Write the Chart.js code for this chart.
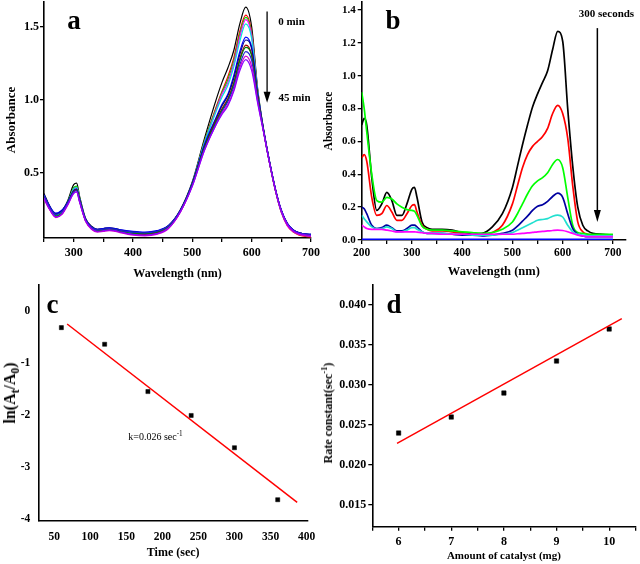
<!DOCTYPE html>
<html><head><meta charset="utf-8">
<script src="https://cdn.jsdelivr.net/npm/chart.js@4.4.0/dist/chart.umd.min.js"></script>
<style>
html,body{margin:0;padding:0;background:#fff;}
#wrap{position:relative;width:640px;height:564px;overflow:hidden;background:#fff;}
canvas{position:absolute;left:0;top:0;}
.t{position:absolute;font-family:'Liberation Serif','Times New Roman',serif;font-weight:bold;color:#000;white-space:nowrap;line-height:1;}
.t sub,.t sup{font-size:0.72em;line-height:0;}
</style></head>
<body><div id="wrap">
<canvas id="ca" width="640" height="564"></canvas>
<canvas id="cb" width="640" height="564"></canvas>
<canvas id="cc" width="640" height="564"></canvas>
<canvas id="cd" width="640" height="564"></canvas>
<div class="t" style="left:74px;top:7.4px;font-size:27px;transform:translateX(-50%)">a</div>
<div class="t" style="left:393px;top:7.4px;font-size:27px;transform:translateX(-50%)">b</div>
<div class="t" style="left:52.5px;top:290.7px;font-size:27px;transform:translateX(-50%)">c</div>
<div class="t" style="left:394px;top:290.7px;font-size:27px;transform:translateX(-50%)">d</div>
<div class="t" style="left:291.5px;top:21px;font-size:11px;transform:translate(-50%,-50%)">0 min</div>
<div class="t" style="left:294.5px;top:97px;font-size:11px;transform:translate(-50%,-50%)">45 min</div>
<div class="t" style="left:606.5px;top:12.7px;font-size:11px;transform:translate(-50%,-50%)">300 seconds</div>
<div class="t" style="left:128.3px;top:436.7px;font-size:10px;font-weight:normal;transform:translateY(-50%)">k=0.026 sec<sup>-1</sup></div>
<div class="t" style="left:10px;top:393px;font-size:16px;transform:translate(-50%,-50%) rotate(-90deg)">ln(A<sub>t</sub>/A<sub>0</sub>)</div>
<div class="t" style="left:328px;top:413px;font-size:12px;transform:translate(-50%,-50%) rotate(-90deg)">Rate constant(sec<sup>-1</sup>)</div>
</div>
<script>
const FONT = "'Liberation Serif','Times New Roman',serif";

// ---------- Panel a: spectra 0 - 45 min ----------
const wlA = [250,260,270,280,290,300,305,310,320,330,340,350,360,370,380,400,420,440,460,480,500,520,540,550,560,570,580,590,600,610,620,630,640,650,660,670,680,700];
const specA1  = [0.36,0.27,0.215,0.24,0.31,0.42,0.43,0.34,0.19,0.135,0.115,0.12,0.125,0.12,0.11,0.095,0.09,0.10,0.14,0.25,0.44,0.73,1.00,1.12,1.22,1.34,1.52,1.635,1.50,1.08,0.80,0.58,0.39,0.24,0.15,0.11,0.09,0.075];
const specA2  = [0.33,0.25,0.20,0.225,0.29,0.395,0.405,0.32,0.175,0.12,0.10,0.105,0.11,0.105,0.095,0.08,0.075,0.085,0.125,0.235,0.425,0.71,0.95,1.06,1.16,1.29,1.47,1.58,1.46,1.06,0.79,0.57,0.38,0.23,0.14,0.095,0.075,0.06];
const specA3  = [0.34,0.26,0.21,0.23,0.30,0.40,0.41,0.33,0.18,0.125,0.105,0.11,0.115,0.11,0.10,0.085,0.08,0.09,0.13,0.24,0.43,0.71,0.94,1.05,1.14,1.27,1.45,1.565,1.45,1.07,0.79,0.57,0.38,0.235,0.145,0.10,0.08,0.065];
const specA4  = [0.33,0.25,0.20,0.22,0.29,0.39,0.40,0.32,0.175,0.12,0.10,0.105,0.11,0.105,0.095,0.08,0.075,0.085,0.125,0.235,0.425,0.70,0.93,1.04,1.12,1.25,1.43,1.55,1.44,1.06,0.79,0.57,0.38,0.23,0.14,0.10,0.08,0.065];
const specA5  = [0.34,0.26,0.215,0.235,0.30,0.39,0.40,0.32,0.18,0.125,0.11,0.115,0.12,0.115,0.105,0.09,0.085,0.095,0.135,0.24,0.43,0.70,0.92,1.02,1.10,1.23,1.40,1.52,1.42,1.06,0.79,0.575,0.385,0.235,0.15,0.105,0.085,0.07];
const specA6  = [0.35,0.27,0.225,0.245,0.30,0.38,0.39,0.32,0.185,0.13,0.115,0.12,0.125,0.12,0.11,0.10,0.095,0.105,0.14,0.245,0.43,0.69,0.88,0.97,1.04,1.17,1.33,1.43,1.36,1.05,0.80,0.58,0.39,0.245,0.155,0.11,0.09,0.08];
const specA7  = [0.35,0.265,0.22,0.24,0.30,0.38,0.39,0.32,0.18,0.13,0.11,0.115,0.12,0.115,0.105,0.095,0.09,0.10,0.14,0.245,0.43,0.68,0.87,0.96,1.03,1.15,1.31,1.41,1.35,1.04,0.79,0.58,0.39,0.245,0.155,0.11,0.09,0.08];
const specA8  = [0.33,0.25,0.20,0.22,0.29,0.375,0.385,0.31,0.175,0.12,0.10,0.105,0.11,0.105,0.095,0.08,0.08,0.09,0.13,0.24,0.42,0.67,0.86,0.94,1.01,1.12,1.28,1.375,1.31,1.03,0.79,0.575,0.385,0.24,0.15,0.105,0.085,0.07];
const specA9  = [0.34,0.255,0.205,0.225,0.29,0.37,0.38,0.31,0.175,0.125,0.105,0.11,0.115,0.11,0.10,0.085,0.085,0.095,0.135,0.24,0.42,0.67,0.85,0.93,1.00,1.11,1.27,1.36,1.30,1.02,0.79,0.575,0.385,0.24,0.15,0.105,0.085,0.07];
const specA10 = [0.35,0.265,0.215,0.235,0.295,0.37,0.38,0.31,0.18,0.13,0.11,0.115,0.12,0.115,0.105,0.095,0.09,0.10,0.14,0.245,0.42,0.66,0.84,0.92,0.99,1.09,1.24,1.33,1.27,1.01,0.79,0.58,0.39,0.245,0.155,0.11,0.09,0.08];
const specA11 = [0.32,0.245,0.195,0.215,0.28,0.36,0.37,0.30,0.17,0.115,0.095,0.10,0.105,0.10,0.09,0.075,0.07,0.08,0.12,0.235,0.41,0.65,0.83,0.91,0.97,1.07,1.22,1.30,1.23,0.99,0.78,0.57,0.38,0.235,0.145,0.10,0.08,0.065];
const specA12 = [0.33,0.25,0.20,0.22,0.285,0.36,0.37,0.30,0.175,0.12,0.10,0.105,0.11,0.105,0.095,0.08,0.075,0.085,0.125,0.235,0.41,0.65,0.83,0.90,0.96,1.06,1.20,1.275,1.20,0.98,0.78,0.57,0.385,0.24,0.15,0.105,0.085,0.07];
const colorsA = ['#000000','#ff0000','#00e000','#ff00ff','#00e0e0','#0000ff','#000090','#a00000','#007a00','#2020d0','#d000d0','#8a00ff'];
const seriesA = [specA1,specA2,specA3,specA4,specA5,specA6,specA7,specA8,specA9,specA10,specA11,specA12];

// ---------- Panel b: spectra 0 - 300 s ----------
const wlB = [200,205,210,220,230,240,250,260,270,280,290,300,305,310,320,330,340,360,380,400,420,440,460,480,500,510,520,530,540,550,560,570,580,590,600,610,620,630,640,650,660,680,700];
const specBblack   = [0.70,0.74,0.70,0.38,0.18,0.22,0.29,0.24,0.15,0.15,0.22,0.31,0.32,0.26, 0.11,0.075,0.065,0.065,0.06,0.045,0.035,0.04,0.08,0.16, 0.32,0.45,0.58,0.70,0.81,0.89,0.96,1.03,1.16,1.27, 1.21,0.80,0.45,0.20,0.09,0.055,0.04,0.035,0.03];
const specBred     = [0.50,0.52,0.48,0.26,0.15,0.16,0.21,0.17,0.12,0.12,0.16,0.21,0.215,0.17, 0.09,0.065,0.055,0.055,0.05,0.04,0.03,0.03,0.045,0.09, 0.22,0.33,0.44,0.52,0.57,0.60,0.63,0.68,0.77,0.82, 0.77,0.62,0.33,0.11,0.05,0.035,0.03,0.025,0.025];
const specBgreen   = [0.90,0.80,0.66,0.40,0.24,0.23,0.26,0.25,0.22,0.20,0.185,0.18,0.175,0.15, 0.085,0.065,0.06,0.06,0.055,0.05,0.045,0.04,0.045,0.065, 0.11,0.16,0.22,0.28,0.33,0.36,0.38,0.41,0.46,0.49, 0.44,0.26,0.09,0.045,0.04,0.035,0.035,0.035,0.035];
const specBnavy    = [0.20,0.19,0.16,0.09,0.07,0.075,0.09,0.075,0.055,0.055,0.07,0.09,0.09,0.08, 0.05,0.04,0.04,0.04,0.035,0.03,0.03,0.025,0.03,0.04, 0.06,0.085,0.115,0.145,0.18,0.205,0.215,0.235,0.265,0.285, 0.26,0.16,0.07,0.035,0.025,0.02,0.02,0.02,0.02];
const specBcyan    = [0.15,0.13,0.11,0.08,0.07,0.07,0.08,0.07,0.05,0.05,0.06,0.075,0.075,0.065, 0.05,0.04,0.04,0.04,0.035,0.035,0.03,0.03,0.03,0.035, 0.045,0.06,0.075,0.09,0.105,0.12,0.125,0.13,0.145,0.152, 0.14,0.09,0.05,0.035,0.03,0.025,0.025,0.025,0.025];
const specBmagenta = [0.09,0.08,0.07,0.065,0.065,0.065,0.06,0.055,0.05,0.05,0.05,0.05,0.05,0.048, 0.045,0.04,0.04,0.035,0.035,0.035,0.035,0.035,0.035,0.035, 0.035,0.038,0.04,0.043,0.046,0.05,0.052,0.055,0.058,0.06, 0.058,0.05,0.04,0.03,0.025,0.02,0.02,0.02,0.02];
const wlBblue   = [200,700];
const specBblue = [0.004,0.004];

// ---------- Panel c: kinetics ----------
const timeC = [60,120,180,240,300,360];
const lnC   = [-0.31,-0.63,-1.54,-2.0,-2.62,-3.62];
const fitXC = [68,387];
const fitYC = [-0.24,-3.67];

// ---------- Panel d: rate constant vs catalyst ----------
const massD = [6,7,8,9,10];
const rateD = [0.024,0.026,0.029,0.033,0.037];
const fitXD = [5.97,10.24];
const fitYD = [0.0227,0.0383];

function pts(xs, ys){ return xs.map((x,i)=>({x:x, y:ys[i]})); }
function fixScale(w,h){
  return function(s){
    if (w != null) s.width = w;
    if (h != null) s.height = h;
    s.paddingTop = 0; s.paddingBottom = 0; s.paddingLeft = 0; s.paddingRight = 0;
  };
}
function axis(o){
  return {
    type:'linear', min:o.min, max:o.max,
    afterFit: fixScale(o.w, o.h),
    border:{display:true, color:'#000', width:1.6},
    grid:{display:true, drawOnChartArea:false, drawTicks:o.tl>0, tickLength:o.tl||0, color:'#000', lineWidth:1.3},
    ticks:{stepSize:o.step, includeBounds:false, autoSkip:false, maxRotation:0, minRotation:0,
           padding:o.pad, color:'#000', font:{family:FONT, size:o.fs, weight:'bold'}, callback:o.cb},
    title: o.title ? {display:true, text:o.title, color:'#000',
                      font:{family:FONT, size:o.tfs, weight:'bold'},
                      padding:{top:o.tpad||0, bottom:o.tpad||0}} : {display:false}
  };
}
const arrowPlugin = {
  id:'arrow',
  afterDatasetsDraw(chart, args, a){
    if (!a || a.x == null) return;
    const xs = chart.scales.x, ys = chart.scales.y, ctx = chart.ctx;
    const px = xs.getPixelForValue(a.x), p1 = ys.getPixelForValue(a.y1), p2 = ys.getPixelForValue(a.y2);
    ctx.save();
    ctx.strokeStyle = '#000'; ctx.fillStyle = '#000'; ctx.lineWidth = a.lw;
    ctx.beginPath(); ctx.moveTo(px, p1); ctx.lineTo(px, p2 - a.hl + 1); ctx.stroke();
    ctx.beginPath(); ctx.moveTo(px - a.hw, p2 - a.hl); ctx.lineTo(px + a.hw, p2 - a.hl); ctx.lineTo(px, p2); ctx.closePath(); ctx.fill();
    ctx.restore();
  }
};
function baseOpts(pad, scales, arrow){
  return {
    responsive:false, animation:false, devicePixelRatio:1, events:[],
    layout:{padding:pad},
    plugins:{legend:{display:false}, tooltip:{enabled:false}, arrow: arrow || {}},
    scales: scales
  };
}
const lab100 = v => (Math.round(v) % 100 === 0 ? String(Math.round(v)) : '');

// Chart a
new Chart(document.getElementById('ca'), {
  type:'line',
  data:{datasets: seriesA.map((s,i)=>({data:pts(wlA,s), borderColor:colorsA[i], borderWidth:1.2,
        pointRadius:0, fill:false, cubicInterpolationMode:'monotone'})).reverse()},
  options: baseOpts({left:0, right:329, top:2, bottom:283}, {
    x: axis({min:250, max:700, h:43, tl:4, step:50, pad:4, fs:12, cb:lab100, title:'Wavelength (nm)', tfs:12}),
    y: axis({min:0.055, max:1.67, w:44, tl:4, step:0.5, pad:1, fs:12, cb:v=>v.toFixed(1), title:'Absorbance', tfs:13, tpad:4})
  }, {x:626, y1:1.605, y2:0.98, lw:1.3, hl:11, hw:3.5}),
  plugins:[arrowPlugin]
});

// Chart b
const seriesB = [
  {x:wlB, y:specBmagenta, c:'#ff00ff'},
  {x:wlB, y:specBcyan, c:'#22e0d0'},
  {x:wlB, y:specBnavy, c:'#0000a0'},
  {x:wlB, y:specBgreen, c:'#00ff00'},
  {x:wlB, y:specBred, c:'#ff0000'},
  {x:wlB, y:specBblack, c:'#000000'},
  {x:wlBblue, y:specBblue, c:'#0000ff'}
];
new Chart(document.getElementById('cb'), {
  type:'line',
  data:{datasets: seriesB.map(s=>({data:pts(s.x,s.y), borderColor:s.c, borderWidth:1.7,
        pointRadius:0, fill:false, cubicInterpolationMode:'monotone'}))},
  options: baseOpts({left:321.7, right:14, top:2, bottom:284.5}, {
    x: axis({min:200, max:726, h:39.5, tl:4, step:50, pad:2, fs:11.5, cb:lab100, title:'Wavelength (nm)', tfs:12.5}),
    y: axis({min:0, max:1.449, w:40, tl:4, step:0.2, pad:2, fs:11, cb:v=>v.toFixed(1), title:'Absorbance', tfs:11.5, tpad:0})
  }, {x:669, y1:1.29, y2:0.11, lw:1.5, hl:12, hw:3.5}),
  plugins:[arrowPlugin]
});

// Chart c
new Chart(document.getElementById('cc'), {
  type:'scatter',
  data:{datasets:[
    {data:pts(fitXC, fitYC), showLine:true, borderColor:'#ff0000', borderWidth:1.5, pointRadius:0},
    {data:pts(timeC, lnC), pointStyle:'rect', pointRadius:2.9, pointBorderWidth:0.5,
     backgroundColor:'#000', borderColor:'#000'}
  ]},
  options: baseOpts({left:0, right:332, top:285, bottom:3.9}, {
    x: axis({min:28, max:402, h:39.6, tl:0, step:50, pad:10, fs:11.5, cb:v=>String(Math.round(v)), title:'Time (sec)', tfs:12}),
    y: axis({min:-4.02, max:0.51, w:38.3, tl:0, step:1, pad:8, fs:11.5, cb:v=>String(Math.round(v))})
  })
});

// Chart d
new Chart(document.getElementById('cd'), {
  type:'scatter',
  data:{datasets:[
    {data:pts(fitXD, fitYD), showLine:true, borderColor:'#ff0000', borderWidth:1.5, pointRadius:0},
    {data:pts(massD, rateD), pointStyle:'rect', pointRadius:3.1, pointBorderWidth:0.5,
     backgroundColor:'#000', borderColor:'#000'}
  ]},
  options: baseOpts({left:320, right:3.3, top:285, bottom:0.9}, {
    x: axis({min:5.5, max:10.5, h:36.4, tl:4, step:0.5, pad:4, fs:12,
             cb:v=>(Math.abs(v-Math.round(v))<1e-6 ? String(Math.round(v)) : ''), title:'Amount of catalyst (mg)', tfs:11}),
    y: axis({min:0.0123, max:0.0425, w:52.3, tl:4, step:0.005, pad:2, fs:12, cb:v=>v.toFixed(3)})
  })
});
</script>
</body></html>
